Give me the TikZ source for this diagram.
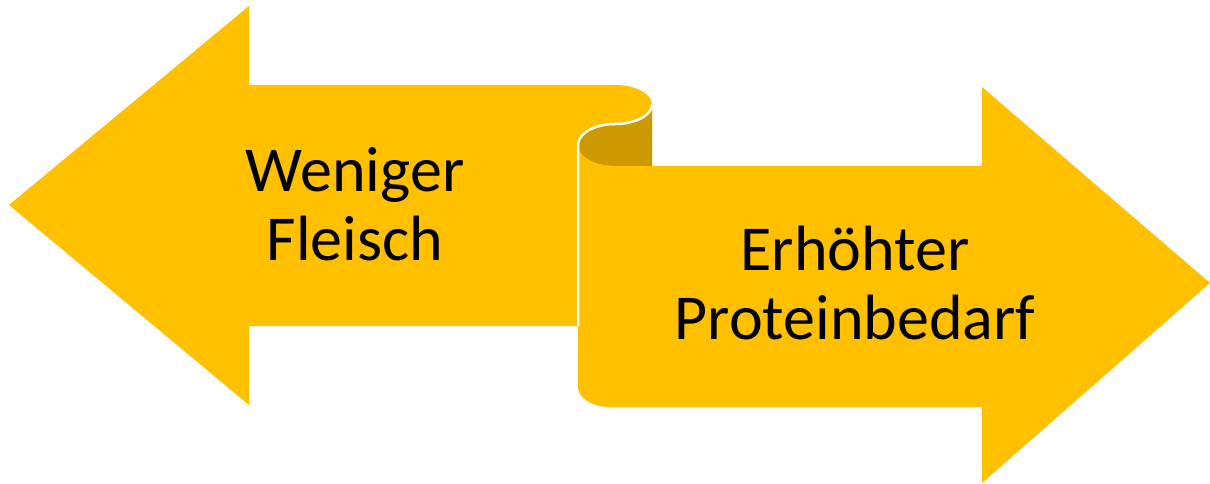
\documentclass[tikz,border=0pt]{standalone}
\usepackage{fontspec}
\setmainfont{Carlito}
\definecolor{gold}{HTML}{FFC000}
\definecolor{darkgold}{HTML}{CC9A00}
\begin{document}
\begin{tikzpicture}[x=1pt,y=-1pt,
  lbl/.style={anchor=base,inner sep=0pt,font=\fontsize{64}{69}\selectfont,text=black}]
\useasboundingbox (0,0) rectangle (1210,484);
% left arrow (with top scroll cap)
\fill[gold] (9,205) -- (249,6) -- (249,85) -- (615,85)
  .. controls (635.4,85) and (652,93.7) .. (652,104.5)
  -- (652,166) -- (578,166) -- (578,326) -- (249,326) -- (249,405) -- cycle;
% dark back of the scroll
\fill[darkgold] (652,104.5) .. controls (652,115.3) and (635.4,124) .. (615,124)
  .. controls (594.6,124) and (578,133.4) .. (578,145)
  .. controls (578,156.6) and (594.6,166) .. (615,166)
  -- (652,166) -- cycle;
% right arrow
\fill[gold] (578,145) .. controls (578,156.6) and (594.6,166) .. (615,166)
  -- (982,166) -- (982,87) -- (1210,283) -- (982,483) -- (982,407) -- (610,407)
  .. controls (592.3,407) and (578,398) .. (578,387) -- cycle;
% white outline of the scroll
\draw[white,line width=2.5pt] (652,104.5) .. controls (652,115.3) and (635.4,124) .. (615,124)
  .. controls (594.6,124) and (578,133.4) .. (578,145) -- (578,326);
% labels
\node[lbl] (l1) at (355,191) {Weniger};
\node[lbl] (l2) at (355,260) {Fleisch};
\node[lbl] (r1) at (855,270) {Erhöhter};
\node[lbl] (r2) at (855,339) {Proteinbedarf};
\end{tikzpicture}
\end{document}
